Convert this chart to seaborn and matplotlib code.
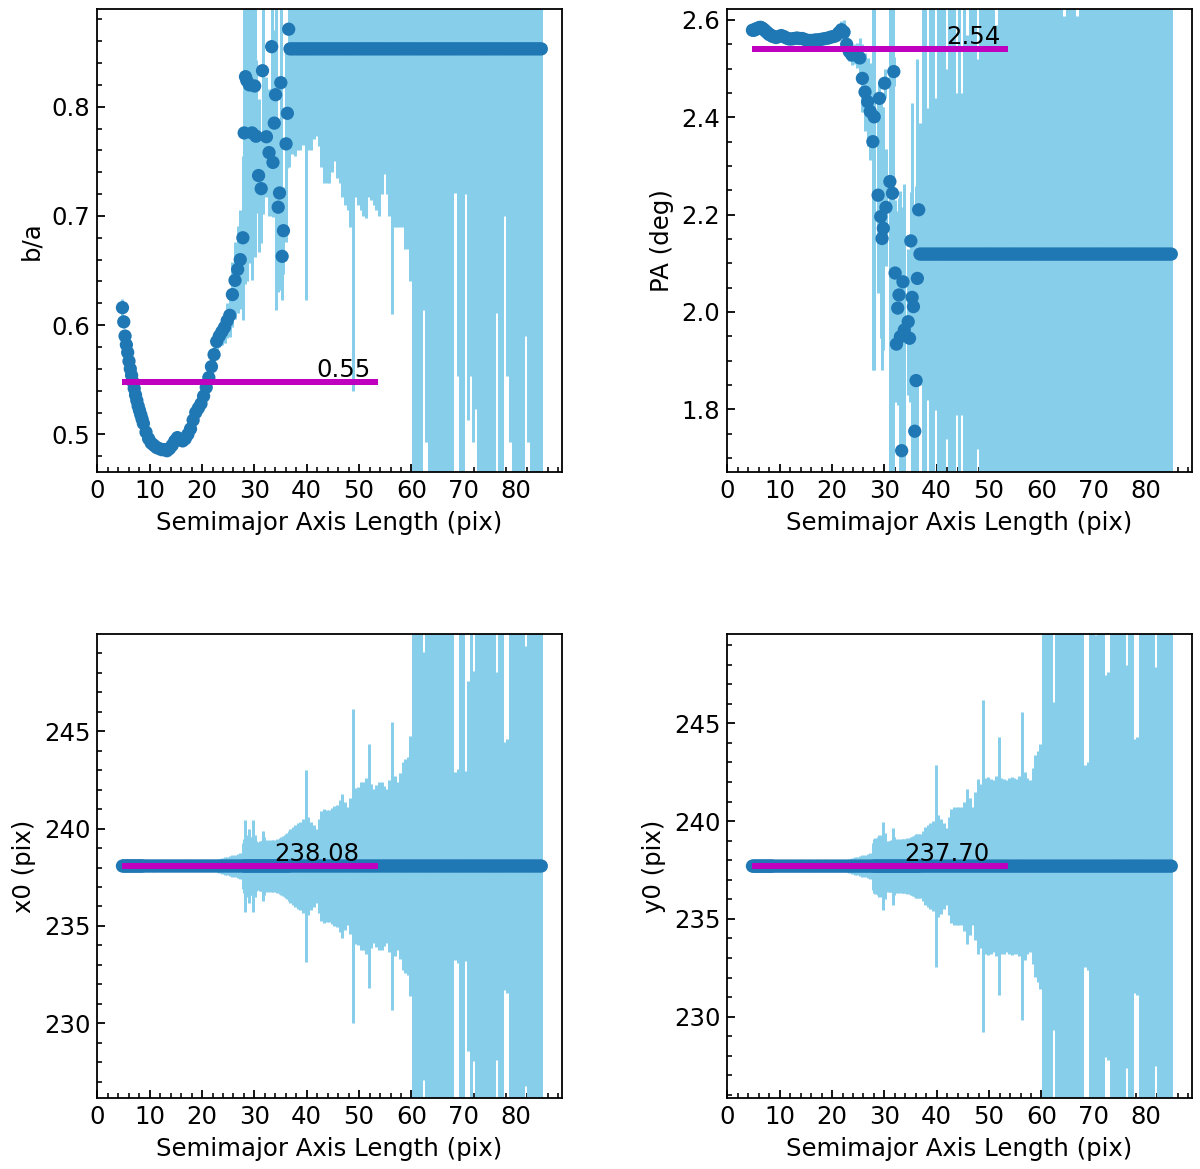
import numpy as np
import pandas as pd
import matplotlib
matplotlib.use("Agg")
import matplotlib.pyplot as plt
from matplotlib.ticker import MultipleLocator
import seaborn as sns

nan = np.nan

# ---------------- data ----------------
sma = [
    4.8, 5.05, 5.3, 5.55, 5.8, 6.05, 6.3, 6.55, 6.8,
    7.05, 7.3, 7.55, 7.8, 8.05, 8.3, 8.55, 8.8, 9.3,
    9.8, 10.3, 10.8, 11.3, 11.8, 12.3, 12.8, 13.3, 13.8, 14.3,
    14.8, 15.3, 15.8, 16.3, 16.8, 17.3, 17.8, 18.3, 18.8, 19.3,
    19.8, 20.3, 20.8, 21.3, 21.8, 22.3, 22.8, 23.3, 23.8, 24.3,
    24.8, 25.3, 25.8, 26.3, 26.8, 27.3, 27.8,
    28.05, 28.3, 28.55, 28.8, 29.05, 29.3, 29.55, 29.8, 30.05, 30.3,
    30.55, 30.8, 31.05, 31.3, 31.55, 31.8, 32.05, 32.3, 32.55, 32.8,
    33.05, 33.3, 33.55, 33.8, 34.05, 34.3, 34.55, 34.8, 35.05, 35.3,
    35.55, 35.8, 36.05, 36.3, 36.55,
    36.8, 37.3, 37.8, 38.3, 38.8, 39.3, 39.8, 40.3, 40.8, 41.3,
    41.8, 42.3, 42.8, 43.3, 43.8, 44.3, 44.8, 45.3, 45.8, 46.3,
    46.8, 47.3, 47.8, 48.3, 48.8, 49.3, 49.8, 50.3, 50.8, 51.3,
    51.8, 52.3, 52.8, 53.3, 53.8, 54.3, 54.8, 55.3, 55.8, 56.3,
    56.8, 57.3, 57.8, 58.3, 58.8, 59.3, 59.8, 60.3, 60.8, 61.3,
    61.8, 62.3, 62.8, 63.3, 63.8, 64.3, 64.8, 65.3, 65.8, 66.3,
    66.8, 67.3, 67.8, 68.3, 68.8, 69.3, 69.8, 70.3, 70.8, 71.3,
    71.8, 72.3, 72.8, 73.3, 73.8, 74.3, 74.8, 75.3, 75.8, 76.3,
    76.8, 77.3, 77.8, 78.3, 78.8, 79.3, 79.8, 80.3, 80.8, 81.3,
    81.8, 82.3, 82.8, 83.3, 83.8, 84.3, 84.8,
]

ba = [
    0.616, 0.603, 0.590, 0.582, 0.575, 0.567, 0.560, 0.554, 0.548,
    0.542, 0.536, 0.531, 0.526, 0.522, 0.518, 0.514, 0.510, 0.502,
    0.496, 0.492, 0.490, 0.488, 0.487, 0.486, 0.486, 0.485, 0.487, 0.490,
    0.494, 0.497, 0.495, 0.494, 0.496, 0.500, 0.505, 0.513, 0.520, 0.524,
    0.528, 0.535, 0.543, 0.552, 0.562, 0.573, 0.585, 0.590, 0.594, 0.598,
    0.604, 0.609, 0.628, 0.641, 0.651, 0.660, 0.680,
    0.776, 0.8275, 0.824, nan, 0.820, nan, 0.776, nan, 0.819, 0.773,
    nan, 0.737, nan, 0.725, 0.833, nan, nan, 0.7725, nan, 0.758,
    nan, 0.855, 0.749, 0.785, 0.811, nan, 0.708, 0.721, 0.822, 0.663,
    0.6865, nan, 0.766, 0.794, 0.871,
    0.853, 0.853, 0.853, 0.853, 0.853, 0.853, 0.853, 0.853, 0.853, 0.853,
    0.853, 0.853, 0.853, 0.853, 0.853, 0.853, 0.853, 0.853, 0.853, 0.853,
    0.853, 0.853, 0.853, 0.853, 0.853, 0.853, 0.853, 0.853, 0.853, 0.853,
    0.853, 0.853, 0.853, 0.853, 0.853, 0.853, 0.853, 0.853, 0.853, 0.853,
    0.853, 0.853, 0.853, 0.853, 0.853, 0.853, 0.853, 0.853, 0.853, 0.853,
    0.853, 0.853, 0.853, 0.853, 0.853, 0.853, 0.853, 0.853, 0.853, 0.853,
    0.853, 0.853, 0.853, 0.853, 0.853, 0.853, 0.853, 0.853, 0.853, 0.853,
    0.853, 0.853, 0.853, 0.853, 0.853, 0.853, 0.853, 0.853, 0.853, 0.853,
    0.853, 0.853, 0.853, 0.853, 0.853, 0.853, 0.853, 0.853, 0.853, 0.853,
    0.853, 0.853, 0.853, 0.853, 0.853, 0.853, 0.853,
]

ba_err = [
    0.008, 0.006, 0.005, 0.005, 0.004, 0.004, 0.004, 0.004, 0.004,
    0.004, 0.004, 0.004, 0.004, 0.004, 0.004, 0.004, 0.004, 0.004,
    0.004, 0.004, 0.004, 0.004, 0.004, 0.004, 0.004, 0.004, 0.004, 0.004,
    0.004, 0.004, 0.004, 0.004, 0.004, 0.004, 0.004, 0.005, 0.005, 0.005,
    0.005, 0.005, 0.006, 0.006, 0.007, 0.008, 0.009, 0.010, 0.012, 0.014,
    0.016, 0.020, 0.030, 0.035, 0.040, 0.045, 0.075,
    0.135, 0.19, 0.184, nan, 0.163, nan, 0.135, nan, 0.157, 0.07,
    nan, 0.07, nan, 0.05, 0.131, nan, nan, 0.055, nan, 0.058,
    nan, 0.155, 0.05, 0.085, 0.197, nan, 0.078, 0.05, 0.19, 0.04,
    0.04, nan, 0.09, 0.05, 0.126,
    0.096, 0.096, 0.098, 0.093, 0.093, 0.088, 0.23, 0.093, 0.093, 0.083,
    0.080, 0.089, 0.108, 0.123, 0.123, 0.123, 0.113, 0.103, 0.118, 0.123,
    0.136, 0.143, 0.148, 0.163, 0.313, 0.136, 0.143, 0.148, 0.153, 0.155,
    0.136, 0.138, 0.143, 0.148, 0.153, 0.133, 0.115, 0.133, 0.153, 0.243,
    0.163, 0.163, 0.163, 0.163, 0.183, 0.183, 0.213, 0.45, 0.5, 0.5,
    0.45, 0.239, 0.36, 0.5, 0.5, 0.5, 0.5, 0.5, 0.5, 0.5,
    0.5, 0.5, 0.45, 0.132, 0.30, 0.5, 0.45, 0.133, 0.34, 0.30,
    0.36, 0.33, 0.5, 0.5, 0.5, 0.5, 0.5, 0.5, 0.45, 0.242,
    0.5, 0.45, 0.153, 0.30, 0.36, 0.5, 0.5, 0.5, 0.5, 0.45,
    0.263, 0.36, 0.5, 0.5, 0.5, 0.5, 0.5,
]

pa = [
    2.579, 2.579, 2.580, 2.582, 2.583, 2.584, 2.585, 2.584, 2.582,
    2.580, 2.577, 2.575, 2.572, 2.570, 2.569, 2.567, 2.566, 2.564,
    2.566, 2.568, 2.566, 2.563, 2.561, 2.561, 2.562, 2.563, 2.562, 2.562,
    2.560, 2.558, 2.558, 2.558, 2.559, 2.559, 2.560, 2.561, 2.562, 2.563,
    2.565, 2.566, 2.568, 2.574, 2.580, 2.575, 2.550, 2.535, 2.528, 2.530,
    2.527, 2.522, 2.480, 2.452, 2.432, 2.412, 2.350,
    2.401, nan, nan, 2.240, 2.439, 2.196, 2.151, 2.172, 2.470, 2.215,
    nan, nan, 2.268, nan, 2.244, 2.494, 2.080, 1.934, 2.008, 2.035,
    1.949, 1.715, 2.062, 1.963, nan, nan, 1.980, 1.946, 2.146, 2.030,
    2.011, 1.755, 1.859, 2.069, 2.210,
    2.119, 2.119, 2.119, 2.119, 2.119, 2.119, 2.119, 2.119, 2.119, 2.119,
    2.119, 2.119, 2.119, 2.119, 2.119, 2.119, 2.119, 2.119, 2.119, 2.119,
    2.119, 2.119, 2.119, 2.119, 2.119, 2.119, 2.119, 2.119, 2.119, 2.119,
    2.119, 2.119, 2.119, 2.119, 2.119, 2.119, 2.119, 2.119, 2.119, 2.119,
    2.119, 2.119, 2.119, 2.119, 2.119, 2.119, 2.119, 2.119, 2.119, 2.119,
    2.119, 2.119, 2.119, 2.119, 2.119, 2.119, 2.119, 2.119, 2.119, 2.119,
    2.119, 2.119, 2.119, 2.119, 2.119, 2.119, 2.119, 2.119, 2.119, 2.119,
    2.119, 2.119, 2.119, 2.119, 2.119, 2.119, 2.119, 2.119, 2.119, 2.119,
    2.119, 2.119, 2.119, 2.119, 2.119, 2.119, 2.119, 2.119, 2.119, 2.119,
    2.119, 2.119, 2.119, 2.119, 2.119, 2.119, 2.119,
]

pa_err = [
    0.005, 0.005, 0.005, 0.005, 0.005, 0.005, 0.005, 0.005, 0.005,
    0.005, 0.005, 0.005, 0.005, 0.005, 0.005, 0.005, 0.005, 0.005,
    0.005, 0.005, 0.005, 0.005, 0.005, 0.005, 0.005, 0.005, 0.005, 0.005,
    0.005, 0.005, 0.005, 0.005, 0.005, 0.005, 0.005, 0.005, 0.005, 0.005,
    0.006, 0.006, 0.008, 0.012, 0.018, 0.025, 0.025, 0.02, 0.02, 0.02,
    0.025, 0.04, 0.07, 0.08, 0.09, 0.10, 0.47,
    0.52, nan, nan, 0.2, 0.03, 0.25, 0.27, 0.25, 0.03, 0.12,
    nan, nan, 0.6, nan, 0.6, 0.03, 0.15, 0.12, 0.2, 0.2,
    0.3, 0.5, 0.15, 0.3, nan, nan, 0.15, 0.13, 0.1, 0.4,
    0.2, 0.45, 0.4, 0.45, 0.03,
    0.27, 0.6, 0.6, 0.30, 0.6, 0.6, 0.32, 0.6, 0.6, 0.6,
    0.38, 0.6, 0.6, 0.6, 0.33, 0.6, 0.33, 0.6, 0.45, 0.6,
    0.6, 0.6, 0.40, 0.6, 0.6, 0.6, 0.6, 0.6, 0.6, 0.47,
    0.6, 0.6, 0.6, 0.6, 0.6, 0.6, 0.6, 0.6, 0.6, 0.6,
    0.6, 0.6, 0.6, 0.6, 0.6, 0.6, 0.6, 0.6, 0.6, 0.6,
    0.6, 0.6, 0.6, 0.6, 0.6, 0.49, 0.6, 0.6, 0.6, 0.6,
    0.49, 0.6, 0.6, 0.6, 0.6, 0.6, 0.6, 0.6, 0.6, 0.6,
    0.6, 0.6, 0.6, 0.6, 0.6, 0.6, 0.6, 0.6, 0.6, 0.6,
    0.6, 0.6, 0.6, 0.6, 0.6, 0.6, 0.6, 0.6, 0.6, 0.6,
    0.6, 0.6, 0.6, 0.6, 0.6, 0.6, 0.6,
]

x0 = [
    238.08, 238.08, 238.08, 238.08, 238.08, 238.08, 238.08, 238.08, 238.08,
    238.08, 238.08, 238.08, 238.08, 238.08, 238.08, 238.08, 238.08, 238.08,
    238.08, 238.08, 238.08, 238.08, 238.08, 238.08, 238.08, 238.08, 238.08, 238.08,
    238.08, 238.08, 238.08, 238.08, 238.08, 238.08, 238.08, 238.08, 238.08, 238.08,
    238.08, 238.08, 238.08, 238.08, 238.08, 238.08, 238.08, 238.08, 238.08, 238.08,
    238.08, 238.08, 238.08, 238.08, 238.08, 238.08, 238.08,
    238.08, 238.08, 238.08, 238.08, 238.08, 238.08, 238.08, 238.08, 238.08, 238.08,
    238.08, 238.08, 238.08, 238.08, 238.08, 238.08, 238.08, 238.08, 238.08, 238.08,
    238.08, 238.08, 238.08, 238.08, 238.08, 238.08, 238.08, 238.08, 238.08, 238.08,
    238.08, 238.08, 238.08, 238.08, 238.08,
    238.08, 238.08, 238.08, 238.08, 238.08, 238.08, 238.08, 238.08, 238.08, 238.08,
    238.08, 238.08, 238.08, 238.08, 238.08, 238.08, 238.08, 238.08, 238.08, 238.08,
    238.08, 238.08, 238.08, 238.08, 238.08, 238.08, 238.08, 238.08, 238.08, 238.08,
    238.08, 238.08, 238.08, 238.08, 238.08, 238.08, 238.08, 238.08, 238.08, 238.08,
    238.08, 238.08, 238.08, 238.08, 238.08, 238.08, 238.08, 238.08, 238.08, 238.08,
    238.08, 238.08, 238.08, 238.08, 238.08, 238.08, 238.08, 238.08, 238.08, 238.08,
    238.08, 238.08, 238.08, 238.08, 238.08, 238.08, 238.08, 238.08, 238.08, 238.08,
    238.08, 238.08, 238.08, 238.08, 238.08, 238.08, 238.08, 238.08, 238.08, 238.08,
    238.08, 238.08, 238.08, 238.08, 238.08, 238.08, 238.08, 238.08, 238.08, 238.08,
    238.08, 238.08, 238.08, 238.08, 238.08, 238.08, 238.08,
]

x0_err = [
    0.05, 0.05, 0.05, 0.05, 0.05, 0.05, 0.05, 0.05, 0.05,
    0.05, 0.05, 0.05, 0.05, 0.05, 0.05, 0.05, 0.05, 0.05,
    0.05, 0.05, 0.05, 0.05, 0.05, 0.05, 0.05, 0.05, 0.05, 0.05,
    0.06, 0.07, 0.08, 0.08, 0.09, 0.10, 0.10, 0.11, 0.12, 0.13,
    0.14, 0.15, 0.17, 0.19, 0.22, 0.26, 0.30, 0.36, 0.40, 0.44,
    0.48, 0.52, 0.55, 0.58, 0.62, 0.66, 1.20,
    1.4, 2.35, 1.5, 1.6, 1.92, 1.5, 1.5, 2.35, 1.6, 1.3,
    1.24, 1.2, 1.3, 1.3, 1.8, 1.5, 1.3, 1.32, 1.3, 1.35,
    1.3, 1.32, 1.35, 1.3, 1.35, 1.4, 1.35, 1.45, 1.5, 1.45,
    1.55, 1.6, 1.66, 1.7, 1.8,
    1.9, 2.0, 2.1, 2.2, 2.26, 2.4, 4.92, 2.5, 2.26, 2.1,
    1.92, 2.4, 2.8, 2.95, 2.9, 2.86, 3.0, 3.1, 3.12, 3.4,
    3.72, 3.3, 3.05, 3.5, 8.08, 4.0, 4.06, 4.3, 4.32, 4.5,
    6.28, 4.2, 3.97, 4.15, 4.3, 4.32, 4.1, 3.97, 4.4, 7.4,
    4.6, 4.32, 4.8, 5.35, 5.5, 5.6, 6.7, 12.5, 13.0, 13.5,
    12.6, 11.0, 13.0, 14.0, 14.0, 14.0, 14.0, 14.0, 14.0, 14.0,
    14.0, 14.0, 13.0, 4.83, 5.0, 13.0, 13.0, 4.9, 9.5, 13.0,
    10.0, 13.0, 14.0, 14.0, 14.0, 14.0, 14.0, 14.0, 13.0, 9.96,
    13.0, 13.0, 6.37, 6.5, 13.0, 14.0, 14.0, 14.0, 14.0, 13.0,
    11.3, 13.0, 14.0, 14.0, 14.0, 14.0, 14.0,
]

y0 = [
    237.70, 237.70, 237.70, 237.70, 237.70, 237.70, 237.70, 237.70, 237.70,
    237.70, 237.70, 237.70, 237.70, 237.70, 237.70, 237.70, 237.70, 237.70,
    237.70, 237.70, 237.70, 237.70, 237.70, 237.70, 237.70, 237.70, 237.70, 237.70,
    237.70, 237.70, 237.70, 237.70, 237.70, 237.70, 237.70, 237.70, 237.70, 237.70,
    237.70, 237.70, 237.70, 237.70, 237.70, 237.70, 237.70, 237.70, 237.70, 237.70,
    237.70, 237.70, 237.70, 237.70, 237.70, 237.70, 237.70,
    237.70, 237.70, 237.70, 237.70, 237.70, 237.70, 237.70, 237.70, 237.70, 237.70,
    237.70, 237.70, 237.70, 237.70, 237.70, 237.70, 237.70, 237.70, 237.70, 237.70,
    237.70, 237.70, 237.70, 237.70, 237.70, 237.70, 237.70, 237.70, 237.70, 237.70,
    237.70, 237.70, 237.70, 237.70, 237.70,
    237.70, 237.70, 237.70, 237.70, 237.70, 237.70, 237.70, 237.70, 237.70, 237.70,
    237.70, 237.70, 237.70, 237.70, 237.70, 237.70, 237.70, 237.70, 237.70, 237.70,
    237.70, 237.70, 237.70, 237.70, 237.70, 237.70, 237.70, 237.70, 237.70, 237.70,
    237.70, 237.70, 237.70, 237.70, 237.70, 237.70, 237.70, 237.70, 237.70, 237.70,
    237.70, 237.70, 237.70, 237.70, 237.70, 237.70, 237.70, 237.70, 237.70, 237.70,
    237.70, 237.70, 237.70, 237.70, 237.70, 237.70, 237.70, 237.70, 237.70, 237.70,
    237.70, 237.70, 237.70, 237.70, 237.70, 237.70, 237.70, 237.70, 237.70, 237.70,
    237.70, 237.70, 237.70, 237.70, 237.70, 237.70, 237.70, 237.70, 237.70, 237.70,
    237.70, 237.70, 237.70, 237.70, 237.70, 237.70, 237.70, 237.70, 237.70, 237.70,
    237.70, 237.70, 237.70, 237.70, 237.70, 237.70, 237.70,
]

y0_err = [
    0.05, 0.05, 0.05, 0.05, 0.05, 0.05, 0.05, 0.05, 0.05,
    0.05, 0.05, 0.05, 0.05, 0.05, 0.05, 0.05, 0.05, 0.05,
    0.05, 0.05, 0.05, 0.05, 0.05, 0.05, 0.05, 0.05, 0.05, 0.05,
    0.06, 0.07, 0.08, 0.08, 0.09, 0.10, 0.10, 0.11, 0.12, 0.13,
    0.14, 0.15, 0.17, 0.19, 0.22, 0.26, 0.30, 0.36, 0.40, 0.44,
    0.48, 0.52, 0.55, 0.58, 0.62, 0.68, 1.20,
    1.4, 1.45, 1.4, 1.5, 1.6, 1.5, 1.6, 2.25, 1.7, 1.3,
    1.25, 1.3, 1.3, 1.35, 1.97, 1.5, 1.35, 1.4, 1.35, 1.4,
    1.35, 1.4, 1.38, 1.4, 1.4, 1.45, 1.4, 1.45, 1.5, 1.5,
    1.55, 1.6, 1.62, 1.65, 1.65,
    1.65, 1.8, 2.0, 2.09, 2.2, 2.3, 5.15, 2.6, 2.43, 2.2,
    1.97, 2.5, 2.9, 3.02, 3.02, 3.02, 3.0, 3.3, 3.96, 3.5,
    3.02, 3.8, 4.47, 4.2, 8.48, 4.5, 4.56, 4.47, 4.4, 4.6,
    6.6, 4.5, 4.47, 4.4, 4.5, 4.56, 4.5, 4.47, 4.6, 7.87,
    4.8, 4.5, 4.39, 5.0, 5.67, 5.9, 6.26, 12.5, 13.0, 13.5,
    12.6, 8.4, 13.0, 14.0, 14.0, 14.0, 14.0, 14.0, 14.0, 14.0,
    14.0, 14.0, 13.0, 5.15, 5.3, 13.0, 13.0, 11.8, 13.0, 13.0,
    13.0, 9.75, 9.9, 14.0, 14.0, 14.0, 14.0, 14.0, 13.0, 10.3,
    13.0, 13.0, 6.5, 6.6, 13.0, 14.0, 14.0, 14.0, 14.0, 13.0,
    10.2, 13.0, 14.0, 14.0, 14.0, 14.0, 14.0,
]

panel_names = ["b/a", "PA (deg)", "x0 (pix)", "y0 (pix)"]
median_values = [0.5476, 2.5398, 238.08, 237.70]
median_labels = ["0.55", "2.54", "238.08", "237.70"]
median_span = [4.7, 53.7]
label_x = [41.8, 41.8, 33.7, 33.7]
y_limits = [(0.4658, 0.8895), (1.6718, 2.6226), (226.18, 249.98), (225.86, 249.55)]
y_major = [0.1, 0.2, 5, 5]
y_minor = [0.02, 0.05, 1, 1]
x_limits = (0, 88.7)

# ---------------- style ----------------
sns.set_style("ticks", rc={
    "axes.edgecolor": "black", "xtick.color": "black", "ytick.color": "black",
    "text.color": "black", "axes.labelcolor": "black",
})
plt.rcParams["font.family"] = ["DejaVu Sans"]
plt.rcParams["axes.linewidth"] = 0.9

FS = 12.2
DPI = 144
fig = plt.figure(figsize=(1200 / DPI, 1169 / DPI), dpi=DPI)
rects = [
    [0.0811, 0.5965, 0.3870, 0.3958],
    [0.6061, 0.5965, 0.3870, 0.3958],
    [0.0811, 0.0610, 0.3870, 0.3964],
    [0.6061, 0.0610, 0.3870, 0.3964],
]

series = [(ba, ba_err), (pa, pa_err), (x0, x0_err), (y0, y0_err)]
for i, (vals, errs) in enumerate(series):
    ax = fig.add_axes(rects[i])
    df = pd.DataFrame({"sma": sma, "val": vals, "err": errs})
    ax.errorbar(df["sma"], df["val"], yerr=df["err"], fmt="none",
                ecolor="skyblue", elinewidth=1.5, capsize=0, zorder=2)
    sns.scatterplot(data=df, x="sma", y="val", ax=ax, color="#1f77b4",
                    s=44, linewidth=0, edgecolor="none", zorder=3, legend=False)
    m = median_values[i]
    ax.plot(median_span, [m, m], color="m", lw=3, solid_capstyle="butt", zorder=4)
    ax.text(label_x[i], m, median_labels[i], ha="left", va="bottom",
            fontsize=FS, zorder=5)
    ax.set_xlim(*x_limits)
    ax.set_ylim(*y_limits[i])
    ax.xaxis.set_major_locator(MultipleLocator(10))
    ax.xaxis.set_minor_locator(MultipleLocator(2))
    ax.yaxis.set_major_locator(MultipleLocator(y_major[i]))
    ax.yaxis.set_minor_locator(MultipleLocator(y_minor[i]))
    ax.set_xlabel("Semimajor Axis Length (pix)", fontsize=FS)
    ax.set_ylabel(panel_names[i], fontsize=FS)
    ax.tick_params(which="both", direction="in", top=False, right=False,
                   labelsize=FS)
    ax.tick_params(which="major", length=4, width=0.9)
    ax.tick_params(which="minor", length=2.5, width=0.8)
    for sp in ax.spines.values():
        sp.set_visible(True)
        sp.set_color("black")

fig.savefig("out.png", dpi=DPI)
